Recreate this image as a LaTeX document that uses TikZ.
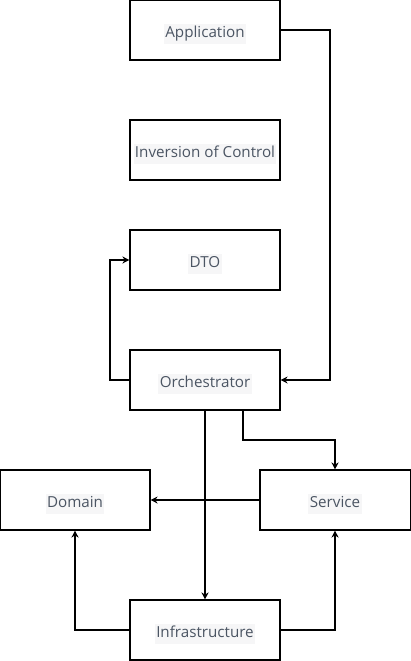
\documentclass[tikz,border=0pt]{standalone}
\usepackage{fontspec}
\setmainfont{Open Sans}
\usetikzlibrary{arrows.meta}
\definecolor{txtgray}{HTML}{4B5563}
\definecolor{hlgray}{HTML}{F6F6F7}
\newcommand{\hltext}[1]{\setlength{\fboxsep}{1pt}\colorbox{hlgray}{\strut #1}}
\tikzset{
  layer/.style={draw, line width=0.75pt, minimum width=3.75cm, minimum height=1.5cm, inner sep=0pt, text height=10.5pt, text depth=0pt, text=txtgray, font=\fontsize{10.8}{12.5}\selectfont},
  link/.style={line width=0.75pt, -{Stealth[length=5pt,width=5pt]}}
}
\begin{document}
\begin{tikzpicture}[x=0.025cm,y=-0.025cm]
\useasboundingbox (0,0) rectangle (411,661);
% layers
\node[layer] (app) at (205,30) {\hltext{Application}};
\node[layer] (ioc) at (205,150) {\hltext{Inversion of Control}};
\node[layer] (dto) at (205,260) {\hltext{DTO}};
\node[layer] (orch) at (205,380) {\hltext{Orchestrator}};
\node[layer] (dom) at (75,500) {\hltext{Domain}};
\node[layer] (svc) at (335,500) {\hltext{Service}};
\node[layer] (infra) at (205,630) {\hltext{Infrastructure}};
% connectors
\draw[link] (app.east) -- (330,30) -- (330,380) -- (orch.east);
\draw[link] (orch.west) -- (110,380) -- (110,260) -- (dto.west);
\draw[link] (243,410) -- (243,440) -- (335,440) -- (svc.north);
\draw[link] (svc.west) -- (dom.east);
\draw[link] (orch.south) -- (infra.north);
\draw[link] (infra.west) -- (75,630) -- (dom.south);
\draw[link] (infra.east) -- (335,630) -- (svc.south);
\end{tikzpicture}
\end{document}
